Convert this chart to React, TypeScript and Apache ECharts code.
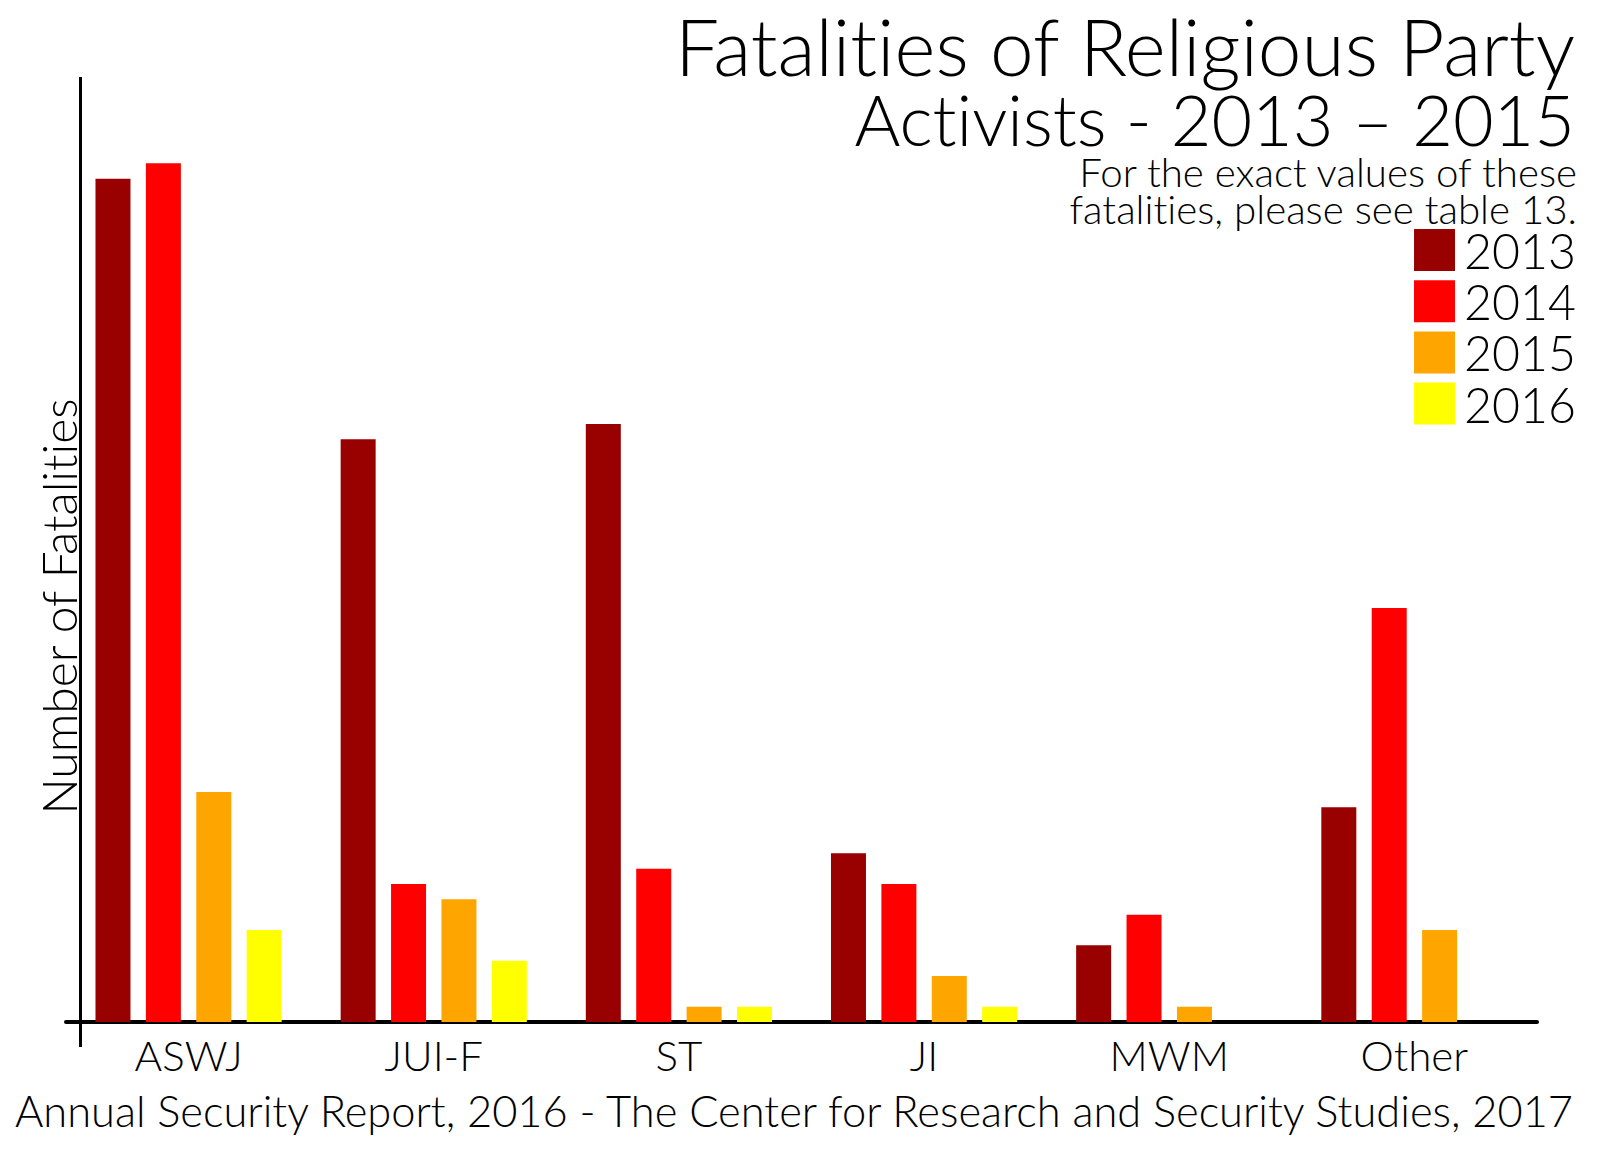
import React, { useEffect, useRef } from "react";
import * as echarts from "echarts";

const categories = ["ASWJ", "JUI-F", "ST", "JI", "MWM", "Other"];
const years = ["2013", "2014", "2015", "2016"];
const values2013 = [55, 38, 39, 11, 5, 14];
const values2014 = [56, 9, 10, 9, 7, 27];
const values2015 = [15, 8, 1, 3, 1, 6];
const values2016 = [6, 4, 1, 1, 0, 0];
const seriesValues = [values2013, values2014, values2015, values2016];
const colors = ["#990000", "#FF0000", "#FFA500", "#FFFF00"];

const titleLines = ["Fatalities of Religious Party", "Activists - 2013 \u2013 2015"];
const noteLines = ["For the exact values of these", "fatalities, please see table 13."];
const yAxisName = "Number of Fatalities";
const sourceText =
  "Annual Security Report, 2016 - The Center for Research and Security Studies, 2017";

const FONT = "Lato";
const WEIGHT = 300;

function measure(text: string, size: number): number {
  const c = document.createElement("canvas").getContext("2d") as any;
  if (!c) return 0;
  c.font = `${WEIGHT} ${size}px ${FONT}`;
  try {
    c.fontVariantLigatures = "none";
  } catch (e) {}
  return c.measureText(text).width;
}

function fit(text: string, width: number, fallback: number): number {
  const w = measure(text, 100);
  if (!w) return fallback;
  return (100 * width) / w;
}

export default function App() {
  const ref = useRef<HTMLDivElement>(null);

  useEffect(() => {
    document.body.style.margin = "0";
    const st = document.createElement("style");
    st.textContent =
      "svg text, svg tspan { font-variant-ligatures: none !important; font-feature-settings: 'liga' 0, 'clig' 0, 'dlig' 0 !important; }";
    document.head.appendChild(st);
    if (!ref.current) return;
    const chart = echarts.init(ref.current, undefined, { renderer: "svg" });

    const t1 = fit(titleLines[0], 903, 64);
    const t2 = fit(titleLines[1], 722, 64);
    const n1 = fit(noteLines[0], 498, 30);
    const n2 = fit(noteLines[1], 511, 30);
    const noteSize = (n1 + n2) / 2;
    const legendSize = fit("2013", 112, 48);
    const xs =
      (fit("ASWJ", 111, 38) + fit("JUI-F", 90, 38) + fit("MWM", 117, 38) + fit("Other", 116, 38)) / 4;
    const ySize = fit(yAxisName, 419, 36);
    const srcSize = fit(sourceText, 1564, 34);

    const textStyle = (size: number, lh: number) => ({
      fill: "#000",
      fontFamily: FONT,
      fontWeight: WEIGHT,
      fontSize: size,
      lineHeight: lh,
      verticalAlign: "middle" as const,
    });

    chart.setOption({
      animation: false,
      backgroundColor: "#ffffff",
      grid: { left: 66, right: 61, top: 102, bottom: 134, containLabel: false },
      legend: {
        data: years,
        orient: "vertical",
        right: 22,
        top: 226,
        padding: 0,
        itemWidth: 41,
        itemHeight: 42,
        itemGap: 3.2,
        icon: "rect",
        selectedMode: false,
        textStyle: {
          fontFamily: FONT,
          fontWeight: WEIGHT,
          fontSize: legendSize,
          color: "#000",
          lineHeight: 42,
          height: 42,
          padding: [0, 0, 0, 4],
        },
      },
      xAxis: {
        type: "category",
        data: categories,
        axisLine: { show: true, lineStyle: { color: "#000", width: 4 } },
        axisTick: { show: false },
        axisLabel: {
          color: "#000",
          fontFamily: FONT,
          fontWeight: WEIGHT,
          fontSize: xs,
          margin: 11,
        },
        splitLine: { show: false },
      },
      yAxis: {
        type: "value",
        min: 0,
        max: 60,
        show: false,
        splitLine: { show: false },
      },
      series: years.map((y, i) => ({
        name: y,
        type: "bar",
        data: seriesValues[i],
        barWidth: 35,
        barGap: "44%",
        itemStyle: { color: colors[i] },
      })),
      graphic: [
        {
          type: "line",
          shape: { x1: 80.5, y1: 77, x2: 80.5, y2: 1047 },
          style: { stroke: "#000", lineWidth: 3 },
          z: 10,
        },
        {
          type: "text",
          x: 1575,
          y: 46,
          style: { ...textStyle(t1, 62), text: titleLines[0], align: "right" },
        },
        {
          type: "text",
          x: 1575,
          y: 118.5,
          style: { ...textStyle(t2, 62), text: titleLines[1], align: "right" },
        },
        {
          type: "text",
          x: 1577,
          y: 171,
          style: { ...textStyle(noteSize, 32), text: noteLines[0], align: "right" },
        },
        {
          type: "text",
          x: 1577,
          y: 208,
          style: { ...textStyle(noteSize, 32), text: noteLines[1], align: "right" },
        },
        {
          type: "text",
          x: 58.5,
          y: 606.5,
          rotation: Math.PI / 2,
          style: { ...textStyle(ySize, ySize), text: yAxisName, align: "center" },
        },
        {
          type: "text",
          x: 794,
          y: 1110,
          style: { ...textStyle(srcSize, srcSize), text: sourceText, align: "center" },
        },
      ],
    });

    return () => {
      chart.dispose();
      st.remove();
    };
  }, []);

  return (
    <div
      ref={ref}
      style={{ position: "fixed", left: 0, top: 0, width: 1598, height: 1156, background: "#fff" }}
    />
  );
}
